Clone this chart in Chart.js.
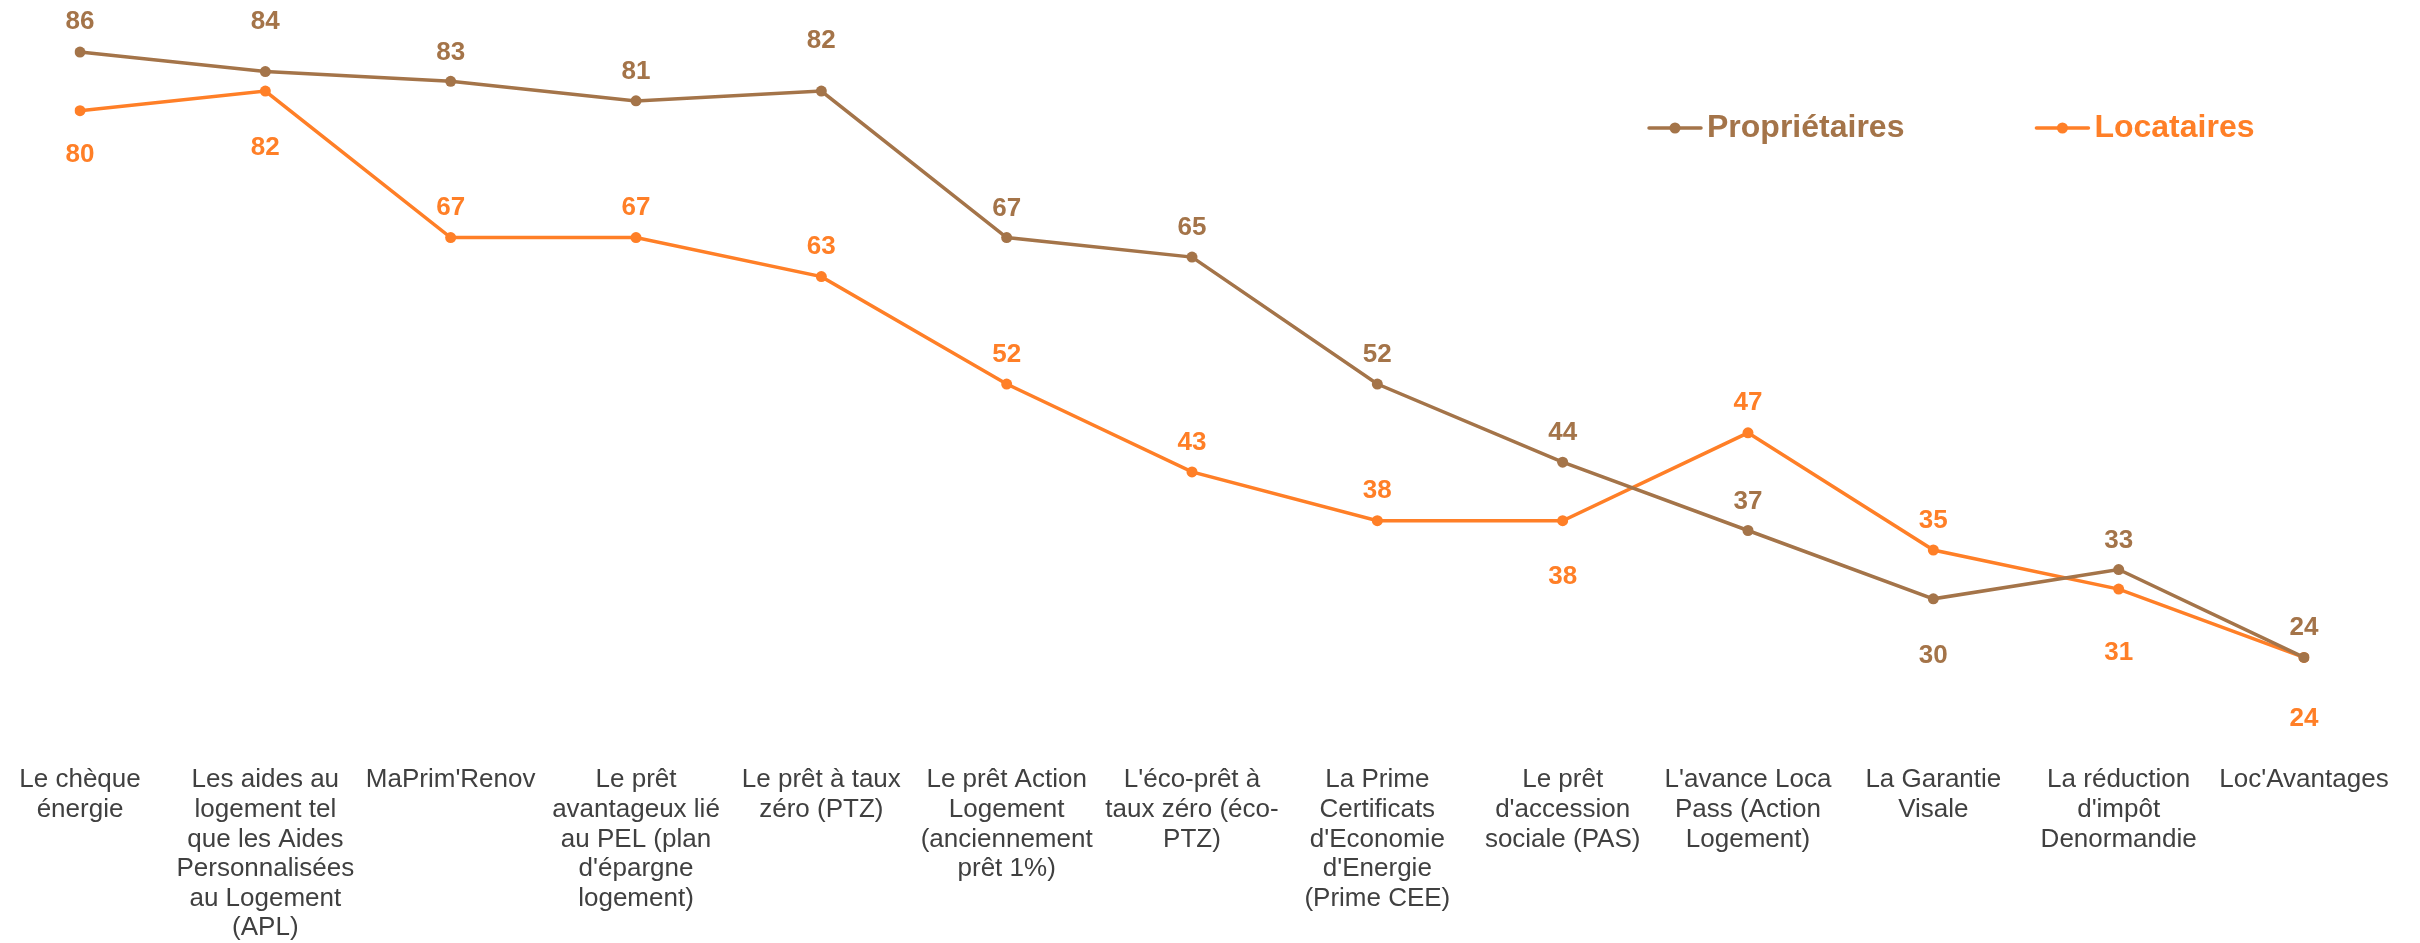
<!DOCTYPE html>
<html>
<head>
<meta charset="utf-8">
<script src="https://cdn.jsdelivr.net/npm/chart.js@4/dist/chart.umd.min.js"></script>
<style>
html, body { margin: 0; padding: 0; background: #fff; }
</style>
</head>
<body>
<canvas id="aidesChart" width="2420" height="943"></canvas>
<script>
const categories = [
    ["Le chèque", "énergie"],
    ["Les aides au", "logement tel", "que les Aides", "Personnalisées", "au Logement", "(APL)"],
    ["MaPrim'Renov"],
    ["Le prêt", "avantageux lié", "au PEL (plan", "d'épargne", "logement)"],
    ["Le prêt à taux", "zéro (PTZ)"],
    ["Le prêt Action", "Logement", "(anciennement", "prêt 1%)"],
    ["L'éco-prêt à", "taux zéro (éco-", "PTZ)"],
    ["La Prime", "Certificats", "d'Economie", "d'Energie", "(Prime CEE)"],
    ["Le prêt", "d'accession", "sociale (PAS)"],
    ["L'avance Loca", "Pass (Action", "Logement)"],
    ["La Garantie", "Visale"],
    ["La réduction", "d'impôt", "Denormandie"],
    ["Loc'Avantages"]
];
const seriesNames = ["Propriétaires", "Locataires"];
const proprietaires = [86, 84, 83, 81, 82, 67, 65, 52, 44, 37, 30, 33, 24];
const locataires = [80, 82, 67, 67, 63, 52, 43, 38, 38, 47, 35, 31, 24];

const brown = '#A47449';
const orange = '#FF7F27';

// where each value label sits, relative to its point (px, + is below)
const labelOffsets = [
    [-30, -50, -29, -29, -50, -29, -29, -29, -29, -29, 57, -29, -30],
    [44, 57, -30, -30, -30, -29, -29, -30, 56, -30, -29, 64, 61]
];

Chart.defaults.font.family = '"Liberation Sans", Arial, sans-serif';

const valueLabels = {
    id: 'valueLabels',
    afterDatasetsDraw(chart) {
        const ctx = chart.ctx;
        ctx.save();
        ctx.font = 'bold 26px "Liberation Sans", Arial, sans-serif';
        ctx.textAlign = 'center';
        ctx.textBaseline = 'middle';
        chart.data.datasets.forEach(function (ds, d) {
            const meta = chart.getDatasetMeta(d);
            ctx.fillStyle = ds.borderColor;
            meta.data.forEach(function (pt, i) {
                ctx.fillText(ds.data[i], pt.x, pt.y + labelOffsets[d][i]);
            });
        });
        ctx.restore();
    }
};

// legend in the upper right, inside the plot: line + dot marker, coloured text
const lineLegend = {
    id: 'lineLegend',
    afterDraw(chart) {
        const ctx = chart.ctx;
        let x = 1647;
        const y = 128;
        ctx.save();
        ctx.font = 'bold 32px "Liberation Sans", Arial, sans-serif';
        ctx.textBaseline = 'middle';
        ctx.textAlign = 'left';
        chart.data.datasets.forEach(function (ds) {
            ctx.strokeStyle = ds.borderColor;
            ctx.fillStyle = ds.borderColor;
            ctx.lineWidth = 3.5;
            ctx.lineCap = 'round';
            ctx.beginPath();
            ctx.moveTo(x + 2, y);
            ctx.lineTo(x + 54, y);
            ctx.stroke();
            ctx.beginPath();
            ctx.arc(x + 28, y, 5.5, 0, Math.PI * 2);
            ctx.fill();
            ctx.fillText(ds.label, x + 60, y);
            x += 60 + ctx.measureText(ds.label).width + 130;
        });
        ctx.restore();
    }
};

new Chart(document.getElementById('aidesChart'), {
    type: 'line',
    data: {
        labels: categories,
        datasets: [{
            label: seriesNames[0],
            data: proprietaires,
            borderColor: brown,
            backgroundColor: brown,
            pointBackgroundColor: brown,
            borderWidth: 3.5,
            pointRadius: 5.5,
            pointBorderWidth: 0,
            tension: 0
        }, {
            label: seriesNames[1],
            data: locataires,
            borderColor: orange,
            backgroundColor: orange,
            pointBackgroundColor: orange,
            borderWidth: 3.5,
            pointRadius: 5.5,
            pointBorderWidth: 0,
            tension: 0
        }]
    },
    options: {
        responsive: false,
        animation: false,
        events: [],
        layout: { padding: { top: 13, left: 80, right: 116, bottom: 0 } },
        scales: {
            x: {
                // invisible tick marks give the gap between plot and labels
                grid: { display: false, drawTicks: true, tickLength: 69 },
                border: { display: false },
                ticks: {
                    autoSkip: false,
                    maxRotation: 0,
                    minRotation: 0,
                    padding: 0,
                    color: '#404040',
                    font: { size: 26, lineHeight: 1.138 }
                }
            },
            y: {
                display: false,
                min: 20,
                max: 90
            }
        },
        plugins: {
            tooltip: { enabled: false },
            legend: { display: false }
        }
    },
    plugins: [valueLabels, lineLegend]
});
</script>
</body>
</html>
